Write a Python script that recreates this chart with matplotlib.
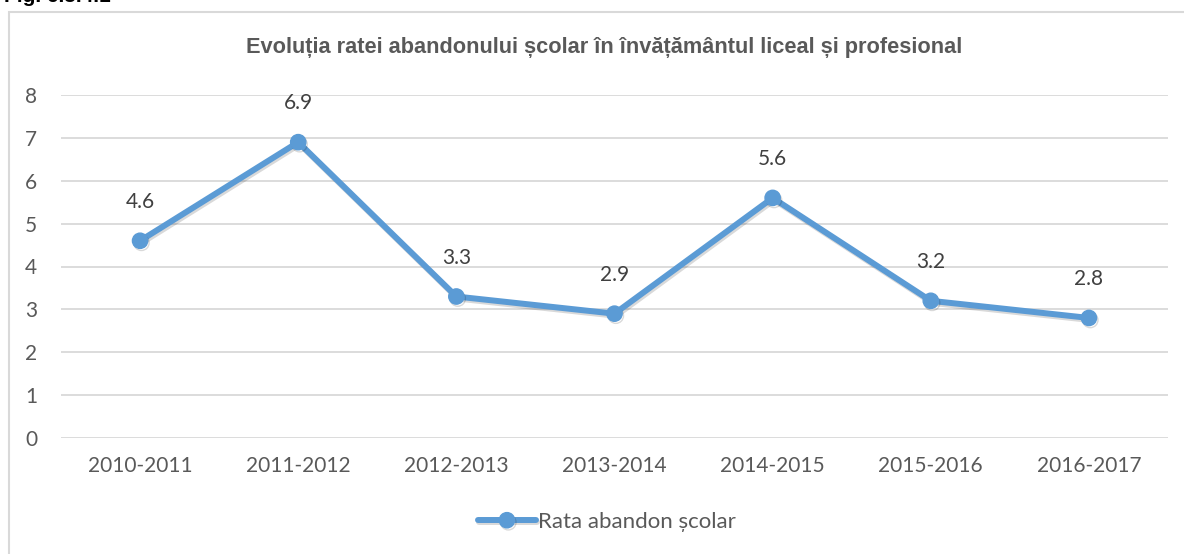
import matplotlib.pyplot as plt
import matplotlib.patheffects as pe
from matplotlib.patches import Rectangle

years = ["2010-2011", "2011-2012", "2012-2013", "2013-2014",
         "2014-2015", "2015-2016", "2016-2017"]
rate = [4.6, 6.9, 3.3, 2.9, 5.6, 3.2, 2.8]
yticks = [0, 1, 2, 3, 4, 5, 6, 7, 8]

blue = "#5B9BD5"
gray = "#595959"

fig = plt.figure(figsize=(11.84, 5.54), dpi=100)
W, H = 1184, 554

# chart frame (runs off the right and bottom edge)
fig.patches.append(Rectangle((9 / W, -0.05), 1.1, (554 - 12) / H + 0.05,
                             transform=fig.transFigure, fill=False,
                             edgecolor="#D9D9D9", linewidth=1.5))
fig.text(4 / W, 1 - 6 / H, "Fig. 6.5.4.1", ha="left", va="bottom",
         fontsize=15, fontweight="bold", family="Liberation Sans", color="black")

ax = fig.add_axes([61 / W, 1 - 438 / H, (1168 - 61) / W, (438 - 95) / H])
x = range(len(years))
shadow = [pe.SimpleLineShadow(offset=(1, -1.5), alpha=0.15, shadow_color="black"),
          pe.Normal()]
ax.plot(x, rate, color=blue, linewidth=4.3, marker="o", markersize=11,
        solid_capstyle="round", path_effects=shadow, label="Rata abandon școlar",
        zorder=3)
for i, v in enumerate(rate):
    ax.annotate(f"{v}", (i, v), xytext=(0, 28), textcoords="offset points",
                ha="center", va="center", fontsize=15, color="#404040", family="Lato")

ax.set_xlim(-0.5, len(years) - 0.5)
ax.set_ylim(0, 8)
ax.set_yticks(yticks)
ax.set_xticks(list(x))
ax.set_xticklabels(years)
ax.grid(axis="y", color="#D9D9D9", linewidth=1.3)
ax.set_axisbelow(True)
for s in ax.spines.values():
    s.set_visible(False)
ax.tick_params(length=0, labelsize=15, labelcolor=gray, pad=13)
ax.tick_params(axis="y", pad=17)
for lab in ax.get_xticklabels() + ax.get_yticklabels():
    lab.set_family("Lato")

fig.text(604 / W, 1 - 48 / H,
         "Evoluția ratei abandonului școlar în învățământul liceal și profesional",
         ha="center", va="center", fontsize=15.7, fontweight="bold", color=gray,
         family="Liberation Sans")

leg = fig.legend(loc="center", bbox_to_anchor=(607 / W, 1 - 522 / H), frameon=False,
                 fontsize=16, handlelength=2.6, handletextpad=0.1)
for t in leg.get_texts():
    t.set_color(gray)
    t.set_family("Lato")

fig.savefig("out.png", dpi=100)
